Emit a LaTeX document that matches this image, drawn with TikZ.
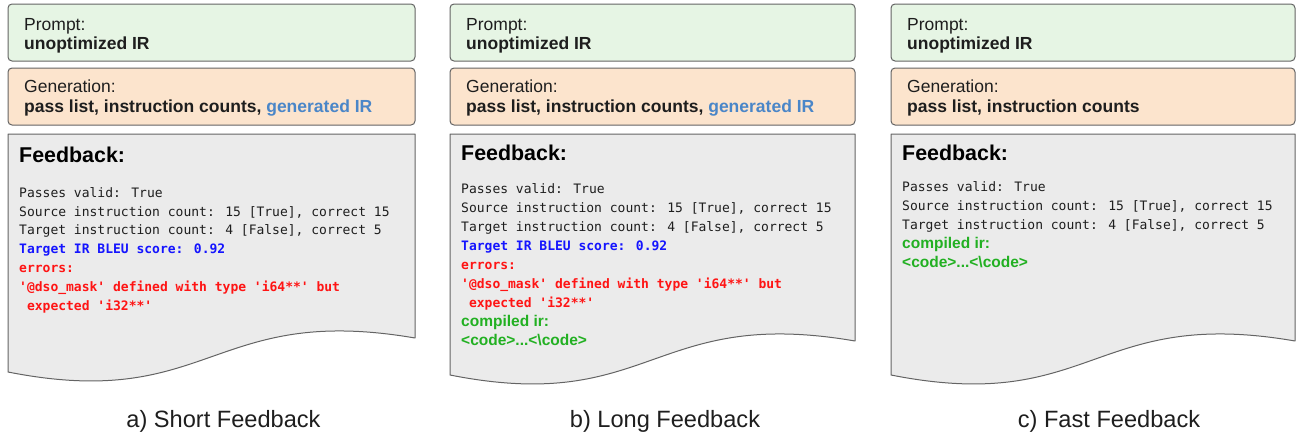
\documentclass[tikz,border=0pt]{standalone}
\usepackage{fontspec}
\setmainfont{Liberation Sans}
\newfontfamily\monof[Ligatures=TeXOff]{DejaVu Sans Mono}
\definecolor{promptfill}{RGB}{230,245,228}
\definecolor{genfill}{RGB}{252,228,205}
\definecolor{docfill}{RGB}{235,235,235}
\definecolor{edge}{RGB}{100,100,100}
\definecolor{irblue}{RGB}{74,134,200}
\definecolor{bleublue}{RGB}{20,20,255}
\definecolor{errred}{RGB}{255,20,20}
\definecolor{okgreen}{RGB}{34,176,34}
\definecolor{txt}{RGB}{30,30,30}
\tikzset{
  boxp/.style={draw=edge, line width=1pt, rounded corners=4pt, fill=promptfill},
  boxg/.style={draw=edge, line width=1pt, rounded corners=4pt, fill=genfill},
  docshape/.style={draw=edge, line width=1pt, fill=docfill, line join=round},
  lbl/.style={anchor=base west, inner sep=0pt, font=\fontsize{17.5}{20}\selectfont, text=txt},
  lblb/.style={lbl, font=\fontsize{17.5}{20}\selectfont\bfseries},
  fbhead/.style={anchor=base west, inner sep=0pt, font=\fontsize{21.4}{24}\selectfont\bfseries, text=black},
  mono/.style={anchor=base west, inner sep=0pt, font=\fontsize{13}{16}\monof, text=txt},
  monob/.style={anchor=base west, inner sep=0pt, font=\fontsize{13}{16}\monof\bfseries},
  grn/.style={anchor=base west, inner sep=0pt, font=\fontsize{15.5}{18}\selectfont\bfseries, text=okgreen},
  captext/.style={anchor=base, inner sep=0pt, font=\fontsize{23.6}{26}\selectfont, text=txt}
}
\begin{document}
\begin{tikzpicture}[x=1pt,y=-1pt]
\useasboundingbox (0,0) rectangle (1296,434);
% ---------- panel a ----------
\draw[boxp] (8,4) rectangle (415,61);
\draw[boxg] (8,68) rectangle (415,125);
\draw[docshape] (8,372) -- (8,134) -- (415,134) -- (415,338)
  .. controls (211,303) and (211,412) .. (8,372) -- cycle;
\node[lbl]  (aP1) at (24,30) {Prompt:};
\node[lblb] (aP2) at (24,49) {unoptimized IR};
\node[lbl]  (aG1) at (24,92) {Generation:};
\node[lblb] (aG2) at (24,112) {pass list, instruction counts, \textcolor{irblue}{generated IR}};
\node[fbhead] (aF) at (19,162) {Feedback:};
\node[mono] (aL1) at (19,197) {Passes valid: True};
\node[mono] (aL2) at (19,216) {Source instruction count: 15 [True], correct 15};
\node[mono] (aL3) at (19,234.5) {Target instruction count: 4 [False], correct 5};
\node[monob, text=bleublue] (aL4) at (19,253) {Target IR BLEU score: 0.92};
\node[monob, text=errred] (aL5) at (19,272) {errors:};
\node[monob, text=errred] (aL6) at (19,291) {'@dso\_mask' defined with type 'i64**' but};
\node[monob, text=errred] (aL7) at (19,310) {\ expected 'i32**'};
\node[captext] (aC) at (223.5,427) {a) Short Feedback};
% ---------- panel b ----------
\draw[boxp] (450,4) rectangle (855,61);
\draw[boxg] (450,68) rectangle (855,125);
\draw[docshape] (450,375) -- (450,134) -- (855,134) -- (855,341)
  .. controls (652,306) and (652,415) .. (450,375) -- cycle;
\node[lbl]  (bP1) at (466,30) {Prompt:};
\node[lblb] (bP2) at (466,49) {unoptimized IR};
\node[lbl]  (bG1) at (466,92) {Generation:};
\node[lblb] (bG2) at (466,112) {pass list, instruction counts, \textcolor{irblue}{generated IR}};
\node[fbhead] (bF) at (461,160) {Feedback:};
\node[mono] (bL1) at (461,193.5) {Passes valid: True};
\node[mono] (bL2) at (461,212.5) {Source instruction count: 15 [True], correct 15};
\node[mono] (bL3) at (461,231) {Target instruction count: 4 [False], correct 5};
\node[monob, text=bleublue] (bL4) at (461,250) {Target IR BLEU score: 0.92};
\node[monob, text=errred] (bL5) at (461,269) {errors:};
\node[monob, text=errred] (bL6) at (461,288) {'@dso\_mask' defined with type 'i64**' but};
\node[monob, text=errred] (bL7) at (461,307) {\ expected 'i32**'};
\node[grn] (bL8) at (461,326) {compiled ir:};
\node[grn] (bL9) at (461,345) {<code>...<\textbackslash code>};
\node[captext] (bC) at (665,427) {b) Long Feedback};
% ---------- panel c ----------
\draw[boxp] (891,4) rectangle (1295,61);
\draw[boxg] (891,68) rectangle (1295,125);
\draw[docshape] (891,375) -- (891,134) -- (1295,134) -- (1295,341)
  .. controls (1093,306) and (1093,415) .. (891,375) -- cycle;
\node[lbl]  (cP1) at (907,30) {Prompt:};
\node[lblb] (cP2) at (907,49) {unoptimized IR};
\node[lbl]  (cG1) at (907,92) {Generation:};
\node[lblb] (cG2) at (907,112) {pass list, instruction counts};
\node[fbhead] (cF) at (902,160) {Feedback:};
\node[mono] (cL1) at (902,191) {Passes valid: True};
\node[mono] (cL2) at (902,210) {Source instruction count: 15 [True], correct 15};
\node[mono] (cL3) at (902,229) {Target instruction count: 4 [False], correct 5};
\node[grn] (cL4) at (902,248) {compiled ir:};
\node[grn] (cL5) at (902,267) {<code>...<\textbackslash code>};
\node[captext] (cC) at (1109,427) {c) Fast Feedback};
\end{tikzpicture}
\end{document}
